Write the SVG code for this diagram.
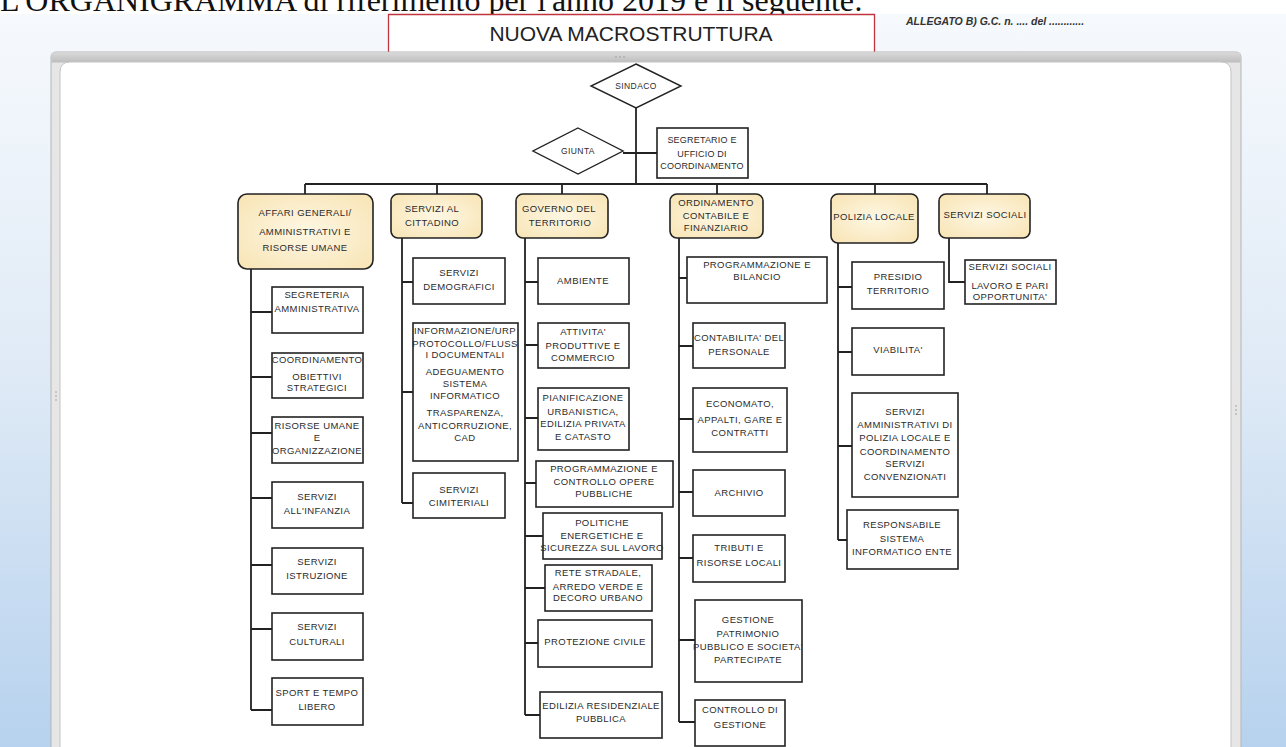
<svg xmlns="http://www.w3.org/2000/svg" width="1286" height="747" viewBox="0 0 1286 747">
<defs>
<linearGradient id="bg" x1="0" y1="0" x2="0" y2="1">
<stop offset="0" stop-color="#f7fafd"/>
<stop offset="0.5" stop-color="#dfeaf6"/>
<stop offset="1" stop-color="#b7d2ee"/>
</linearGradient>
<linearGradient id="bar" x1="0" y1="0" x2="0" y2="1">
<stop offset="0" stop-color="#d9d9d9"/>
<stop offset="1" stop-color="#bdbdbd"/>
</linearGradient>
<radialGradient id="hdr" cx="0.5" cy="0.5" r="0.7">
<stop offset="0" stop-color="#fef7e3"/>
<stop offset="1" stop-color="#f8e4b4"/>
</radialGradient>
<style>
.t{font-family:"Liberation Sans",Arial,sans-serif;font-size:9.5px;letter-spacing:0.4px;fill:#2b2b2b;text-anchor:middle}
.box{fill:#ffffff;stroke:#222;stroke-width:1.6}
.hdr{fill:url(#hdr);stroke:#222;stroke-width:1.6}
.dia{fill:#ffffff;stroke:#222;stroke-width:1.4}
.c{fill:none;stroke:#222;stroke-width:1.8}
</style>
</defs>
<rect x="0" y="0" width="1286" height="747" fill="url(#bg)"/>
<rect x="0" y="0" width="1286" height="14" fill="#ffffff"/>
<text x="0" y="11" font-family="'Liberation Serif','Times New Roman',serif" font-size="32" fill="#111">L'ORGANIGRAMMA di riferimento per l'anno 2019 è il seguente:</text>
<rect x="388" y="14" width="487" height="40" fill="#ffffff"/>
<path d="M388.5,54 V14.5 H874.5 V54" fill="none" stroke="#c0343f" stroke-width="1.3"/>
<text x="631" y="41" font-family="'Liberation Sans',Arial,sans-serif" font-size="21" fill="#222" text-anchor="middle">NUOVA MACROSTRUTTURA</text>
<text x="906" y="25" font-family="'Liberation Sans',Arial,sans-serif" font-size="10.5" font-style="italic" font-weight="bold" fill="#333">ALLEGATO B) G.C.  n. .... del ............</text>
<g id="panel">
<rect x="51" y="52" width="1190" height="720" rx="5" fill="#e6e6e6" stroke="#b5b5b5"/>
<rect x="51.5" y="52.5" width="1189" height="10" fill="url(#bar)"/>
<path d="M60,760 V72 Q60,62 70,62 H1221 Q1231,62 1231,72 V760 Z" fill="#ffffff" stroke="#c4c4c4"/>
<g fill="#9a9a9a">
<circle cx="56" cy="392" r="0.8"/><circle cx="56" cy="396" r="0.8"/><circle cx="56" cy="400" r="0.8"/>
<circle cx="1236" cy="406" r="0.8"/><circle cx="1236" cy="410" r="0.8"/><circle cx="1236" cy="414" r="0.8"/>
<circle cx="616" cy="57" r="0.8"/><circle cx="620" cy="57" r="0.8"/><circle cx="624" cy="57" r="0.8"/>
</g>
</g>
<g id="connectors" class="c">
<path class="c" d="M636,108 V184"/>
<path class="c" d="M623,153 H657"/>
<path class="c" d="M305,184 H987"/>
<path class="c" d="M305,184 V194 M437,184 V194 M562,184 V194 M717,184 V194 M875,184 V194 M987,184 V194"/>
<path class="c" d="M251,269 V710 M251,312 H272 M251,377 H272 M251,433 H272 M251,498 H272 M251,565 H272 M251,629 H272 M251,710 H272"/>
<path class="c" d="M402,238 V503 M402,282 H413 M402,392 H413 M402,503 H413"/>
<path class="c" d="M525,238 V715 M525,282 H538 M525,345 H538 M525,418 H538 M525,483 H536 M525,536 H543 M525,588 H545 M525,643 H538 M525,715 H540"/>
<path class="c" d="M679,238 V722 M679,278 H687 M679,346 H693 M679,419 H693 M679,492 H693 M679,558 H693 M679,640 H695 M679,722 H695"/>
<path class="c" d="M838,243 V540 M838,287 H852 M838,352 H852 M838,446 H852 M838,540 H847"/>
<path class="c" d="M949,238 V282 H965"/>
</g>
<g id="sindaco"><path class="dia" d="M636,64 L681,86 L636,108 L591,86 Z"/><text class="t" x="636" y="89" style="font-size:8.5px">SINDACO</text></g>
<g id="giunta"><path class="dia" d="M578,128 L623,151 L578,174 L533,151 Z"/><text class="t" x="578" y="154" style="font-size:8.5px">GIUNTA</text></g>
<g id="segretario"><rect class="box" x="657" y="128" width="91" height="50"/><text class="t" style="font-size:9px;letter-spacing:0.2px"><tspan x="702" y="143">SEGRETARIO E</tspan><tspan x="702" y="157">UFFICIO DI</tspan><tspan x="702" y="169">COORDINAMENTO</tspan></text></g>

<g id="affari"><rect class="hdr" x="238" y="194" width="135" height="75" rx="9"/><text class="t"><tspan x="305" y="216">AFFARI GENERALI/</tspan><tspan x="305" y="235">AMMINISTRATIVI E</tspan><tspan x="305" y="251">RISORSE UMANE</tspan></text></g>
<g id="cittadino"><rect class="hdr" x="391" y="194" width="91" height="44" rx="7"/><text class="t"><tspan x="432" y="212">SERVIZI AL</tspan><tspan x="432" y="226">CITTADINO</tspan></text></g>
<g id="governo"><rect class="hdr" x="516" y="194" width="92" height="44" rx="7"/><text class="t"><tspan x="559" y="212">GOVERNO  DEL</tspan><tspan x="560" y="226">TERRITORIO</tspan></text></g>
<g id="ordinamento"><rect class="hdr" x="670" y="194" width="93" height="44" rx="7"/><text class="t"><tspan x="716" y="206">ORDINAMENTO</tspan><tspan x="716" y="219">CONTABILE E</tspan><tspan x="716" y="231">FINANZIARIO</tspan></text></g>
<g id="polizia"><rect class="hdr" x="831" y="194" width="87" height="49" rx="7"/><text class="t" x="874" y="220">POLIZIA LOCALE</text></g>
<g id="sociali"><rect class="hdr" x="939" y="194" width="91" height="44" rx="7"/><text class="t" x="985" y="218">SERVIZI SOCIALI</text></g>

<g id="a1"><rect class="box" x="272" y="287" width="91" height="46"/><text class="t"><tspan x="317" y="298">SEGRETERIA</tspan><tspan x="317" y="312">AMMINISTRATIVA</tspan></text></g>
<g id="a2"><rect class="box" x="272" y="353" width="91" height="45"/><text class="t"><tspan x="317" y="363">COORDINAMENTO</tspan><tspan x="317" y="380">OBIETTIVI</tspan><tspan x="317" y="391">STRATEGICI</tspan></text></g>
<g id="a3"><rect class="box" x="272" y="417" width="91" height="46"/><text class="t"><tspan x="317" y="429">RISORSE UMANE</tspan><tspan x="317" y="441">E</tspan><tspan x="317" y="454">ORGANIZZAZIONE</tspan></text></g>
<g id="a4"><rect class="box" x="272" y="482" width="91" height="46"/><text class="t"><tspan x="317" y="500">SERVIZI</tspan><tspan x="317" y="514">ALL'INFANZIA</tspan></text></g>
<g id="a5"><rect class="box" x="272" y="548" width="91" height="46"/><text class="t"><tspan x="317" y="565">SERVIZI</tspan><tspan x="317" y="579">ISTRUZIONE</tspan></text></g>
<g id="a6"><rect class="box" x="272" y="613" width="91" height="47"/><text class="t"><tspan x="317" y="630">SERVIZI</tspan><tspan x="317" y="645">CULTURALI</tspan></text></g>
<g id="a7"><rect class="box" x="272" y="678" width="91" height="47"/><text class="t"><tspan x="317" y="696">SPORT E TEMPO</tspan><tspan x="317" y="710">LIBERO</tspan></text></g>

<g id="c1"><rect class="box" x="413" y="258" width="92" height="46"/><text class="t"><tspan x="459" y="276">SERVIZI</tspan><tspan x="459" y="290">DEMOGRAFICI</tspan></text></g>
<g id="c2"><rect class="box" x="413" y="323" width="105" height="138"/><text class="t"><tspan x="465" y="334">INFORMAZIONE/URP</tspan><tspan x="465" y="347">PROTOCOLLO/FLUSS</tspan><tspan x="465" y="358">I DOCUMENTALI</tspan><tspan x="465" y="375">ADEGUAMENTO</tspan><tspan x="465" y="387">SISTEMA</tspan><tspan x="465" y="399">INFORMATICO</tspan><tspan x="465" y="416">TRASPARENZA,</tspan><tspan x="465" y="429">ANTICORRUZIONE,</tspan><tspan x="465" y="441">CAD</tspan></text></g>
<g id="c3"><rect class="box" x="413" y="473" width="92" height="45"/><text class="t"><tspan x="459" y="493">SERVIZI</tspan><tspan x="459" y="506">CIMITERIALI</tspan></text></g>

<g id="g1"><rect class="box" x="538" y="258" width="91" height="46"/><text class="t" x="583" y="284">AMBIENTE</text></g>
<g id="g2"><rect class="box" x="538" y="323" width="91" height="45"/><text class="t"><tspan x="583" y="335">ATTIVITA'</tspan><tspan x="583" y="349">PRODUTTIVE E</tspan><tspan x="583" y="361">COMMERCIO</tspan></text></g>
<g id="g3"><rect class="box" x="538" y="388" width="91" height="62"/><text class="t"><tspan x="583" y="401">PIANIFICAZIONE</tspan><tspan x="583" y="415">URBANISTICA,</tspan><tspan x="583" y="427">EDILIZIA PRIVATA</tspan><tspan x="583" y="440">E CATASTO</tspan></text></g>
<g id="g4"><rect class="box" x="536" y="461" width="137" height="46"/><text class="t"><tspan x="604" y="472">PROGRAMMAZIONE E</tspan><tspan x="604" y="485">CONTROLLO OPERE</tspan><tspan x="604" y="497">PUBBLICHE</tspan></text></g>
<g id="g5"><rect class="box" x="543" y="513" width="119" height="46"/><text class="t"><tspan x="602" y="526">POLITICHE</tspan><tspan x="602" y="539">ENERGETICHE E</tspan><tspan x="602" y="551">SICUREZZA SUL LAVORO</tspan></text></g>
<g id="g6"><rect class="box" x="545" y="565" width="107" height="46"/><text class="t"><tspan x="598" y="576">RETE STRADALE,</tspan><tspan x="598" y="590">ARREDO VERDE E</tspan><tspan x="598" y="601">DECORO URBANO</tspan></text></g>
<g id="g7"><rect class="box" x="538" y="620" width="114" height="47"/><text class="t" x="595" y="645">PROTEZIONE CIVILE</text></g>
<g id="g8"><rect class="box" x="540" y="692" width="122" height="46"/><text class="t"><tspan x="601" y="709">EDILIZIA RESIDENZIALE</tspan><tspan x="601" y="722">PUBBLICA</tspan></text></g>

<g id="o1"><rect class="box" x="687" y="257" width="140" height="46"/><text class="t"><tspan x="757" y="268">PROGRAMMAZIONE E</tspan><tspan x="757" y="280">BILANCIO</tspan></text></g>
<g id="o2"><rect class="box" x="693" y="323" width="92" height="45"/><text class="t"><tspan x="739" y="341">CONTABILITA' DEL</tspan><tspan x="739" y="355">PERSONALE</tspan></text></g>
<g id="o3"><rect class="box" x="693" y="388" width="94" height="64"/><text class="t"><tspan x="740" y="407">ECONOMATO,</tspan><tspan x="740" y="423">APPALTI, GARE E</tspan><tspan x="740" y="436">CONTRATTI</tspan></text></g>
<g id="o4"><rect class="box" x="693" y="470" width="92" height="46"/><text class="t" x="739" y="496">ARCHIVIO</text></g>
<g id="o5"><rect class="box" x="693" y="535" width="92" height="47"/><text class="t"><tspan x="739" y="551">TRIBUTI  E</tspan><tspan x="739" y="566">RISORSE LOCALI</tspan></text></g>
<g id="o6"><rect class="box" x="695" y="600" width="107" height="82"/><text class="t"><tspan x="748" y="623">GESTIONE</tspan><tspan x="748" y="637">PATRIMONIO</tspan><tspan x="748" y="650">PUBBLICO  E SOCIETA'</tspan><tspan x="748" y="663">PARTECIPATE</tspan></text></g>
<g id="o7"><rect class="box" x="695" y="700" width="90" height="46"/><text class="t"><tspan x="740" y="713">CONTROLLO DI</tspan><tspan x="740" y="728">GESTIONE</tspan></text></g>

<g id="p1"><rect class="box" x="852" y="262" width="92" height="47"/><text class="t"><tspan x="898" y="280">PRESIDIO</tspan><tspan x="898" y="294">TERRITORIO</tspan></text></g>
<g id="p2"><rect class="box" x="852" y="328" width="92" height="47"/><text class="t" x="898" y="353">VIABILITA'</text></g>
<g id="p3"><rect class="box" x="852" y="393" width="106" height="104"/><text class="t"><tspan x="905" y="415">SERVIZI</tspan><tspan x="905" y="428">AMMINISTRATIVI DI</tspan><tspan x="905" y="441">POLIZIA LOCALE E</tspan><tspan x="905" y="455">COORDINAMENTO</tspan><tspan x="905" y="467">SERVIZI</tspan><tspan x="905" y="480">CONVENZIONATI</tspan></text></g>
<g id="p4"><rect class="box" x="847" y="510" width="111" height="59"/><text class="t"><tspan x="902" y="528">RESPONSABILE</tspan><tspan x="902" y="542">SISTEMA</tspan><tspan x="902" y="555">INFORMATICO ENTE</tspan></text></g>

<g id="s1"><rect class="box" x="965" y="260" width="91" height="44"/><text class="t"><tspan x="1010" y="270">SERVIZI SOCIALI</tspan><tspan x="1010" y="289">LAVORO E PARI</tspan><tspan x="1010" y="300">OPPORTUNITA'</tspan></text></g>
</svg>
